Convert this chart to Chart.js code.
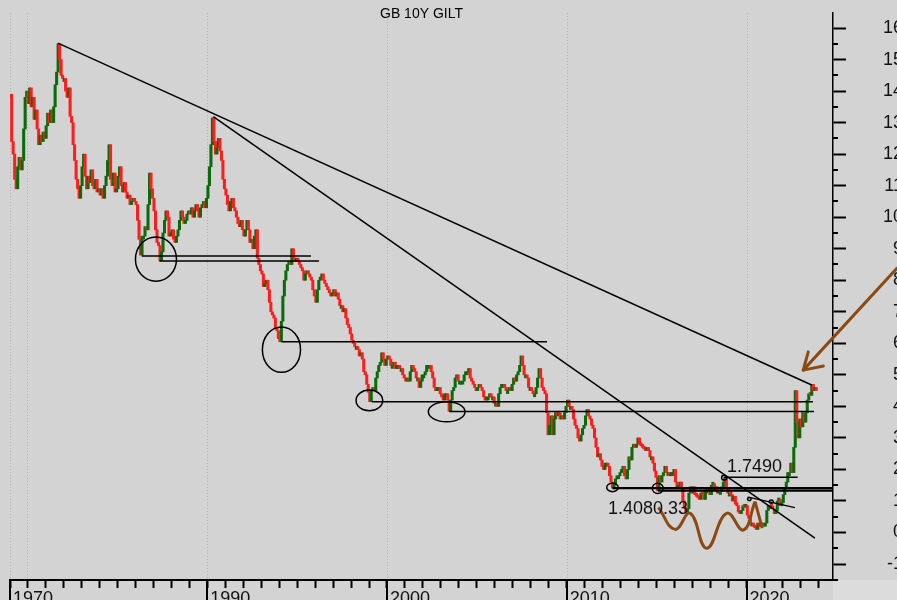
<!DOCTYPE html>
<html><head><meta charset="utf-8">
<script src="https://cdn.jsdelivr.net/npm/chart.js@4/dist/chart.umd.min.js"></script>
<style>
html,body{margin:0;padding:0;overflow:hidden;background:#d3d3d3;width:897px;height:600px;}
#wrap{position:absolute;left:0;top:0;width:903px;height:612px;}
</style></head><body>
<div id="wrap"><canvas id="c" width="903" height="612"></canvas></div>
<script>
// ---------- DATA: monthly closes of the GB 10Y gilt yield (%), Jan 1979 .. Nov 2023 ----------
const START_YEAR = 1979;
const y1979_1983 = [
  13.9,12.4,12.0,11.2,10.9,11.6,11.9,11.5,11.8,12.8,13.8,14.0,
  13.6,14.1,13.5,13.8,13.1,13.4,12.8,12.3,12.6,12.4,12.7,12.5,
  12.9,13.3,13.0,13.4,13.0,13.5,14.2,14.6,15.5,15.0,14.5,14.4,
  14.4,14.0,13.8,14.1,13.2,13.0,12.3,11.8,11.2,10.9,10.6,11.0,
  11.6,12.0,11.3,10.9,11.3,11.1,11.5,11.0,10.9,11.2,10.8,10.9];
const y1984_1988 = [
  10.7,10.9,10.6,11.0,11.3,11.8,12.3,11.2,11.0,11.4,10.8,10.9,
  11.3,11.6,11.0,10.8,11.1,10.8,10.6,10.7,10.4,10.5,10.6,10.5,
  10.4,9.9,9.3,8.8,9.4,9.4,9.7,9.6,10.4,11.4,10.9,10.6,
  10.2,9.6,9.2,9.1,8.62,8.9,9.5,9.9,10.2,10.0,9.4,9.5,
  9.6,9.3,9.2,9.4,9.6,9.9,10.2,10.0,9.8,9.9,10.1,10.2];
const y1989_1993 = [
  10.1,10.3,10.0,10.2,10.4,10.2,10.0,10.3,10.4,10.5,10.3,10.6,
  11.0,11.6,12.3,13.15,12.4,12.0,12.2,12.5,12.1,11.8,11.2,10.9,
  10.7,10.4,10.2,10.5,10.6,10.3,10.2,10.0,9.8,9.7,9.9,9.6,
  9.4,9.6,9.9,9.6,9.2,9.3,9.0,9.4,9.6,8.7,8.5,8.3,
  8.2,7.8,7.9,8.0,7.7,7.3,7.0,6.9,6.8,6.5,6.4,6.15];
const y1994_1998 = [
  6.05,6.7,7.5,8.0,8.3,8.5,8.6,8.5,9.0,8.7,8.6,8.7,
  8.6,8.5,8.4,8.3,8.0,8.2,8.3,8.2,8.1,8.0,7.7,7.5,
  7.3,7.7,8.0,8.1,8.2,8.0,7.9,7.8,7.7,7.6,7.5,7.6,
  7.7,7.5,7.6,7.4,7.2,7.2,7.0,7.1,6.8,6.6,6.5,6.3,
  6.1,6.0,5.9,5.9,5.8,5.6,5.7,5.5,5.1,5.0,4.7,4.45];
const y1999_2003 = [
  4.15,4.5,4.6,4.5,4.9,5.1,5.3,5.4,5.7,5.5,5.3,5.5,
  5.6,5.5,5.3,5.3,5.4,5.2,5.3,5.3,5.2,5.2,5.0,4.9,
  4.8,4.9,4.8,5.1,5.3,5.2,5.1,4.9,4.9,4.6,4.8,5.0,
  5.0,5.1,5.3,5.3,5.3,5.1,4.9,4.6,4.5,4.6,4.6,4.4,
  4.3,4.2,4.4,4.4,4.2,3.85,4.2,4.5,4.6,4.9,5.0,4.8];
const y2004_2008 = [
  4.8,4.8,4.8,5.0,5.1,5.1,5.2,4.9,4.8,4.7,4.6,4.5,
  4.6,4.7,4.6,4.5,4.3,4.2,4.3,4.3,4.4,4.3,4.3,4.1,
  4.1,4.0,4.4,4.6,4.7,4.7,4.6,4.5,4.5,4.6,4.5,4.7,
  4.9,4.8,5.0,5.1,5.3,5.6,5.3,5.0,5.0,4.9,4.6,4.6,
  4.5,4.4,4.4,4.6,4.9,5.2,4.9,4.6,4.5,4.4,3.8,3.1];
const y2009_2013 = [
  3.4,3.7,3.1,3.6,3.8,3.7,3.8,3.6,3.7,3.6,3.8,4.0,
  4.2,4.0,4.0,3.9,3.6,3.4,3.3,3.0,2.9,3.1,3.3,3.4,
  3.7,3.9,3.7,3.6,3.4,3.3,3.0,2.7,2.4,2.5,2.3,2.1,
  2.0,2.2,2.2,2.1,1.8,1.6,1.41,1.5,1.7,1.8,1.8,1.9,
  2.0,2.1,1.8,1.7,2.0,2.4,2.3,2.7,2.8,2.7,2.8,3.0];
const y2014_2018 = [
  2.8,2.75,2.7,2.65,2.6,2.7,2.6,2.4,2.4,2.2,1.95,1.75,
  1.33,1.8,1.6,1.8,1.9,2.1,1.9,1.9,1.8,1.9,1.9,2.0,
  1.6,1.4,1.5,1.6,1.4,1.0,0.8,0.65,0.75,1.25,1.45,1.25,
  1.45,1.2,1.15,1.1,1.05,1.25,1.2,1.05,1.35,1.35,1.3,1.2,
  1.5,1.55,1.35,1.45,1.25,1.3,1.3,1.45,1.6,1.75,1.4,1.25];
const y2019_2023 = [
  1.25,1.2,1.0,1.15,0.9,0.85,0.65,0.6,0.7,0.85,0.8,0.85,
  0.55,0.45,0.3,0.3,0.2,0.15,0.1,0.3,0.2,0.3,0.3,0.2,
  0.3,0.7,0.85,0.85,0.8,0.75,0.6,0.7,1.0,1.05,0.85,0.95,
  1.2,1.4,1.6,1.9,1.9,2.2,1.9,2.7,4.5,3.5,3.0,3.6,
  3.35,3.8,3.5,3.8,4.2,4.4,4.35,4.7,4.5,4.6,4.5];

// axis / tick labels
const TITLE = 'GB 10Y GILT';
const X_MIN = 1979.032, X_MAX = 2024.806;
const Y_MIN = -1.506, Y_MAX = 16.476;
const xMajorTicks = [X_MIN, 1990, 2000, 2010, 2020];
const xMajorLabels = ['1970', '1990', '2000', '2010', '2020'];
const gridYears = [X_MIN, 1980, 1990, 2000, 2010, 2020];
const yTickValues = [-1,0,1,2,3,4,5,6,7,8,9,10,11,12,13,14,15,16];

// drawn annotations (data units: year, yield %)
const trendLines = [
  [[1981.70, 15.52], [2023.62, 4.68]],
  [[1990.34, 13.19], [2023.80, -0.18]]
];
const levelLines = [ // [fromYear, toYear, level]
  [1986.36, 1995.77, 8.77],
  [1987.34, 1996.22, 8.61],
  [1994.14, 2008.90, 6.05],
  [1999.15, 2023.69, 4.15],
  [2003.46, 2023.75, 3.84],
  [2018.75, 2022.84, 1.749]
];
const thickLevels = [[2012.54, X_MAX, 1.408], [2015.06, X_MAX, 1.33]];
const shortLine = [[2020.09, 1.12], [2022.69, 0.79]];
const ellipses = [ // [cx, cy, rx(years), ry(%)]
  [1987.15, 8.67, 1.14, 0.70],
  [1994.13, 5.80, 1.06, 0.72],
  [1999.02, 4.19, 0.74, 0.33],
  [2003.32, 3.83, 1.02, 0.32],
  [2012.54, 1.43, 0.32, 0.135],
  [2015.06, 1.40, 0.31, 0.16],
  [2018.75, 1.74, 0.14, 0.075],
  [2020.15, 1.06, 0.10, 0.05],
  [2021.37, 0.98, 0.11, 0.055]
];
const waveX = [2015.09, 2016.02, 2016.86, 2017.78, 2018.89, 2019.82, 2020.47];
const waveY = [0.80, 0.10, 0.61, -0.50, 0.61, 0.08, 0.98];
const waveTail = [[2020.47, 0.98], [2020.87, 0.14]];
const arrowShaft = [[2028.36, 8.38], [2023.15, 5.15]];
const arrowHead = [[2023.43, 5.73], [2023.15, 5.15], [2024.27, 5.28]];
const notes = [ // [text, leftYear, baselineValue]
  ['1.7490', 2018.91, 1.92],
  ['1.4080', 2012.29, 0.59],
  ['.33', 2015.35, 0.59]
];

// ---------- build ----------
const RED = '#ff1c1c', GREEN = '#0b6b0b', BROWN = '#8b4a14', BG = '#d3d3d3';
const FONT = "'Liberation Sans', Arial, sans-serif";
const closes = [].concat(y1979_1983, y1984_1988, y1989_1993, y1994_1998,
  y1999_2003, y2004_2008, y2009_2013, y2014_2018, y2019_2023);
const bars = [], barColors = [];
closes.forEach((c, i) => {
  const o = i === 0 ? c : closes[i - 1];
  bars.push({x: START_YEAR + (i + 0.5) / 12, y: [Math.min(o, c), Math.max(o, c)]});
  barColors.push(c >= o ? GREEN : RED);
});
const pts = arr => arr.map(p => ({x: p[0], y: p[1]}));
const lineDs = (data, width, color, extra) => Object.assign({
  type: 'line', data, borderColor: color || '#000', borderWidth: width,
  pointRadius: 0, fill: false, tension: 0, order: 0, clip: false
}, extra || {});

const datasets = [{
  type: 'bar', data: bars, backgroundColor: barColors, borderWidth: 0,
  barThickness: 2.4, minBarLength: 3, order: 5
}];
trendLines.forEach(t => datasets.push(lineDs(pts(t), 1.5)));
levelLines.forEach(l => datasets.push(lineDs([{x: l[0], y: l[2]}, {x: l[1], y: l[2]}], 1.5)));
thickLevels.forEach(l => datasets.push(lineDs([{x: l[0], y: l[2]}, {x: l[1], y: l[2]}], 2.2)));
datasets.push(lineDs(pts(shortLine), 1.3));
datasets.push(lineDs(waveX.map((x, i) => ({x, y: waveY[i]})), 3, BROWN, {tension: 0.45}));
datasets.push(lineDs(pts(waveTail), 3, BROWN));

const annot = {
  id: 'annot',
  beforeDraw(chart) {
    const {ctx: c, chartArea: a} = chart;
    c.save(); c.fillStyle = BG; c.fillRect(0, 0, chart.width, chart.height);
    c.fillStyle = '#dcdcdc'; c.fillRect(a.right, a.bottom, chart.width - a.right, chart.height - a.bottom);
    c.restore();
  },
  beforeDatasetsDraw(chart) {
    const {ctx: c, chartArea: a, scales: {x}} = chart;
    c.save(); c.strokeStyle = '#b0b0b0'; c.lineWidth = 1; c.setLineDash([1, 2]);
    gridYears.forEach(v => {
      const px = Math.round(x.getPixelForValue(v)) + 0.5;
      c.beginPath(); c.moveTo(px, a.top); c.lineTo(px, a.bottom); c.stroke();
    });
    c.restore();
  },
  afterDraw(chart) {
    const {ctx: c, chartArea: a, scales: {x, y}} = chart;
    c.save();
    // minor y ticks at half units
    c.strokeStyle = '#000'; c.lineWidth = 2;
    for (let v = -1.5; v <= 16.5; v += 1) {
      if (v < Y_MIN || v > Y_MAX) continue;
      const py = Math.round(y.getPixelForValue(v));
      c.beginPath(); c.moveTo(a.right, py); c.lineTo(a.right + 5, py); c.stroke();
    }
    // long x ticks at labelled positions
    xMajorTicks.forEach(v => {
      const px = Math.round(x.getPixelForValue(v));
      c.beginPath(); c.moveTo(px, a.bottom); c.lineTo(px, chart.height); c.stroke();
    });
    // ellipses
    c.lineWidth = 1.5; c.strokeStyle = '#000';
    ellipses.forEach(e => {
      const cx = x.getPixelForValue(e[0]), cy = y.getPixelForValue(e[1]);
      const rx = Math.abs(x.getPixelForValue(e[0] + e[2]) - cx);
      const ry = Math.abs(y.getPixelForValue(e[1] + e[3]) - cy);
      c.beginPath(); c.ellipse(cx, cy, rx, ry, 0, 0, Math.PI * 2); c.stroke();
    });
    // brown arrow
    c.strokeStyle = BROWN; c.lineWidth = 3; c.lineCap = 'round'; c.lineJoin = 'round';
    [arrowShaft, arrowHead].forEach(seg => {
      c.beginPath();
      seg.forEach((p, i) => {
        const px = x.getPixelForValue(p[0]), py = y.getPixelForValue(p[1]);
        i ? c.lineTo(px, py) : c.moveTo(px, py);
      });
      c.stroke();
    });
    // notes
    c.fillStyle = '#111'; c.font = '18px ' + FONT; c.textBaseline = 'alphabetic'; c.textAlign = 'left';
    notes.forEach(n => c.fillText(n[0], x.getPixelForValue(n[1]), y.getPixelForValue(n[2])));
    // title
    c.font = '14px ' + FONT; c.textAlign = 'center'; c.textBaseline = 'middle'; c.fillStyle = '#000';
    c.fillText(TITLE, (a.left + a.right) / 2, 14);
    c.restore();
  }
};

new Chart(document.getElementById('c'), {
  data: {datasets},
  options: {
    responsive: false, animation: false, devicePixelRatio: 1,
    layout: {padding: {left: 10, top: 13, right: 0, bottom: 0}},
    plugins: {legend: {display: false}, tooltip: {enabled: false}},
    scales: {
      x: {
        type: 'linear', position: 'bottom', min: X_MIN, max: X_MAX, offset: false,
        afterBuildTicks: s => {
          const t = [{value: X_MIN}];
          for (let yr = 1980; yr <= 2024; yr++) t.push({value: yr});
          s.ticks = t;
        },
        afterFit: s => { s.height = 32; s.paddingLeft = 0; s.paddingRight = 0; },
        grid: {offset: false, drawOnChartArea: false, drawTicks: true, tickLength: 8, tickWidth: 2, tickColor: '#000'},
        border: {display: true, color: '#000', width: 2},
        ticks: {
          autoSkip: false, maxRotation: 0, minRotation: 0, align: 'start', padding: 0, labelOffset: 3,
          color: '#111', font: {family: FONT, size: 18},
          callback: v => { const i = xMajorTicks.findIndex(m => Math.abs(m - v) < 1e-6); return i >= 0 ? xMajorLabels[i] : ''; }
        }
      },
      y: {
        type: 'linear', position: 'right', min: Y_MIN, max: Y_MAX,
        afterBuildTicks: s => { s.ticks = yTickValues.map(v => ({value: v})); },
        afterFit: s => { s.width = 70; s.paddingTop = 0; s.paddingBottom = 0; },
        grid: {drawOnChartArea: false, drawTicks: true, tickLength: 13, tickWidth: 2, tickColor: '#000'},
        border: {display: true, color: '#000', width: 1.5},
        ticks: {crossAlign: 'far', padding: 21, color: '#111', font: {family: FONT, size: 18},
          callback: v => String(v)}
      }
    }
  },
  plugins: [annot]
});
</script>
</body></html>
